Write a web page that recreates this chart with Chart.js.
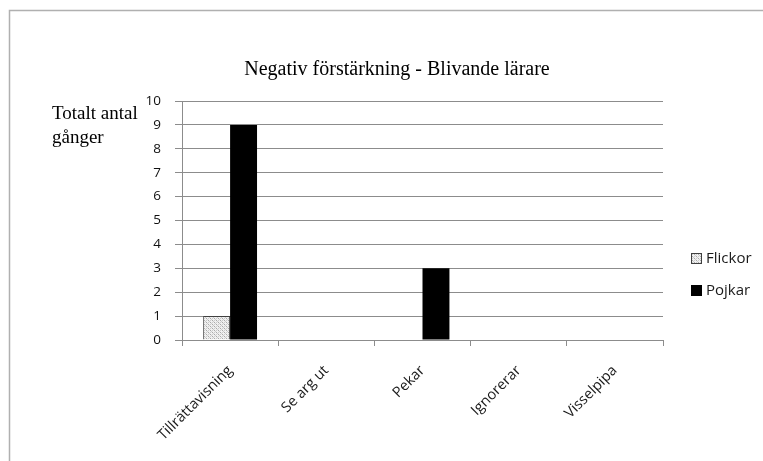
<!DOCTYPE html>
<html>
<head>
<meta charset="utf-8">
<script src="https://cdn.jsdelivr.net/npm/chart.js@4.4.1/dist/chart.umd.min.js"></script>
<style>
  html, body { margin: 0; padding: 0; background: #fff; }
  #chart { display: block; }
</style>
</head>
<body>
<canvas id="chart" width="763" height="461"></canvas>
<script>
const categories = ['Tillrättavisning', 'Se arg ut', 'Pekar', 'Ignorerar', 'Visselpipa'];
const flickor = [1, 0, 0, 0, 0];
const pojkar = [9, 0, 3, 0, 0];
const yTicks = [0, 1, 2, 3, 4, 5, 6, 7, 8, 9, 10];
const seriesNames = ['Flickor', 'Pojkar'];
const chartTitle = 'Negativ förstärkning - Blivande lärare';
const yTitle = ['Totalt antal', 'gånger'];

const gridColor = '#8c8c8c';
const sansFont = '"Open Sans", "Noto Sans", sans-serif';
const serifFont = '"Liberation Serif", "DejaVu Serif", serif';

// light crosshatch fill for Flickor
const makeHatch = () => {
  const c = document.createElement('canvas');
  c.width = 4;
  c.height = 4;
  const p = c.getContext('2d');
  p.fillStyle = '#f0f0f0';
  p.fillRect(0, 0, 4, 4);
  p.fillStyle = '#aaaaaa';
  p.fillRect(0, 0, 1, 1);
  p.fillRect(2, 2, 1, 1);
  p.fillStyle = '#cccccc';
  p.fillRect(1, 1, 1, 1);
  p.fillRect(3, 3, 1, 1);
  p.fillRect(2, 0, 1, 1);
  p.fillRect(0, 2, 1, 1);
  return p.createPattern(c, 'repeat');
};
const hatch = makeHatch();

const extras = {
  id: 'extras',
  beforeDraw(chart) {
    const ctx = chart.ctx;
    ctx.save();
    ctx.strokeStyle = '#b0b0b0';
    ctx.lineWidth = 1.5;
    ctx.beginPath();
    ctx.moveTo(763, 10.5);
    ctx.lineTo(9.5, 10.5);
    ctx.lineTo(9.5, 461);
    ctx.stroke();
    ctx.restore();
  },
  afterDraw(chart) {
    const ctx = chart.ctx;
    ctx.save();
    ctx.fillStyle = '#000';
    // chart title
    ctx.font = '20px ' + serifFont;
    ctx.textAlign = 'center';
    ctx.textBaseline = 'middle';
    ctx.fillText(chartTitle, 397, 70);
    // y axis title
    ctx.font = '19px ' + serifFont;
    ctx.textAlign = 'left';
    ctx.textBaseline = 'alphabetic';
    ctx.fillText(yTitle[0], 52, 119);
    ctx.fillText(yTitle[1], 52, 143);
    // legend
    const rows = [258.5, 290.5];
    chart.data.datasets.forEach((ds, i) => {
      const y = rows[i];
      ctx.fillStyle = ds.backgroundColor;
      ctx.fillRect(691, y - 5.5, 11, 11);
      ctx.strokeStyle = ds.borderColor;
      ctx.lineWidth = 1;
      ctx.strokeRect(691.5, y - 5, 10, 10);
      ctx.fillStyle = '#1a1a1a';
      ctx.font = '15px ' + sansFont;
      ctx.textBaseline = 'middle';
      ctx.fillText(ds.label, 706, y);
    });
    ctx.restore();
  }
};

new Chart(document.querySelector('#chart'), {
  type: 'bar',
  data: {
    labels: categories,
    datasets: [
      {
        label: seriesNames[0],
        data: flickor,
        backgroundColor: hatch,
        borderColor: '#404040',
        borderWidth: ctx => (ctx.raw ? 1 : 0),
        borderSkipped: 'bottom'
      },
      {
        label: seriesNames[1],
        data: pojkar,
        backgroundColor: '#000',
        borderColor: '#000',
        borderWidth: 0
      }
    ]
  },
  options: {
    responsive: false,
    animation: false,
    layout: { padding: { left: 0, right: 100, top: 101, bottom: 0 } },
    categoryPercentage: 0.56,
    barPercentage: 1,
    plugins: {
      legend: { display: false },
      tooltip: { enabled: false },
      title: { display: false }
    },
    scales: {
      x: {
        afterFit: s => { s.height = 121; },
        grid: {
          display: true,
          offset: true,
          drawOnChartArea: false,
          drawTicks: true,
          tickLength: 6,
          color: gridColor
        },
        border: { color: gridColor },
        ticks: {
          autoSkip: false,
          minRotation: 45,
          maxRotation: 45,
          padding: 16,
          color: '#1a1a1a',
          font: { family: sansFont, size: 14.5 }
        }
      },
      y: {
        min: yTicks[0],
        max: yTicks[yTicks.length - 1],
        afterFit: s => { s.width = 182; },
        afterBuildTicks: s => { s.ticks = yTicks.map(v => ({ value: v })); },
        grid: { color: gridColor, tickLength: 7 },
        border: { color: gridColor },
        ticks: {
          padding: 14,
          color: '#111',
          font: { family: sansFont, size: 13.5 }
        }
      }
    }
  },
  plugins: [extras]
});
</script>
</body>
</html>
